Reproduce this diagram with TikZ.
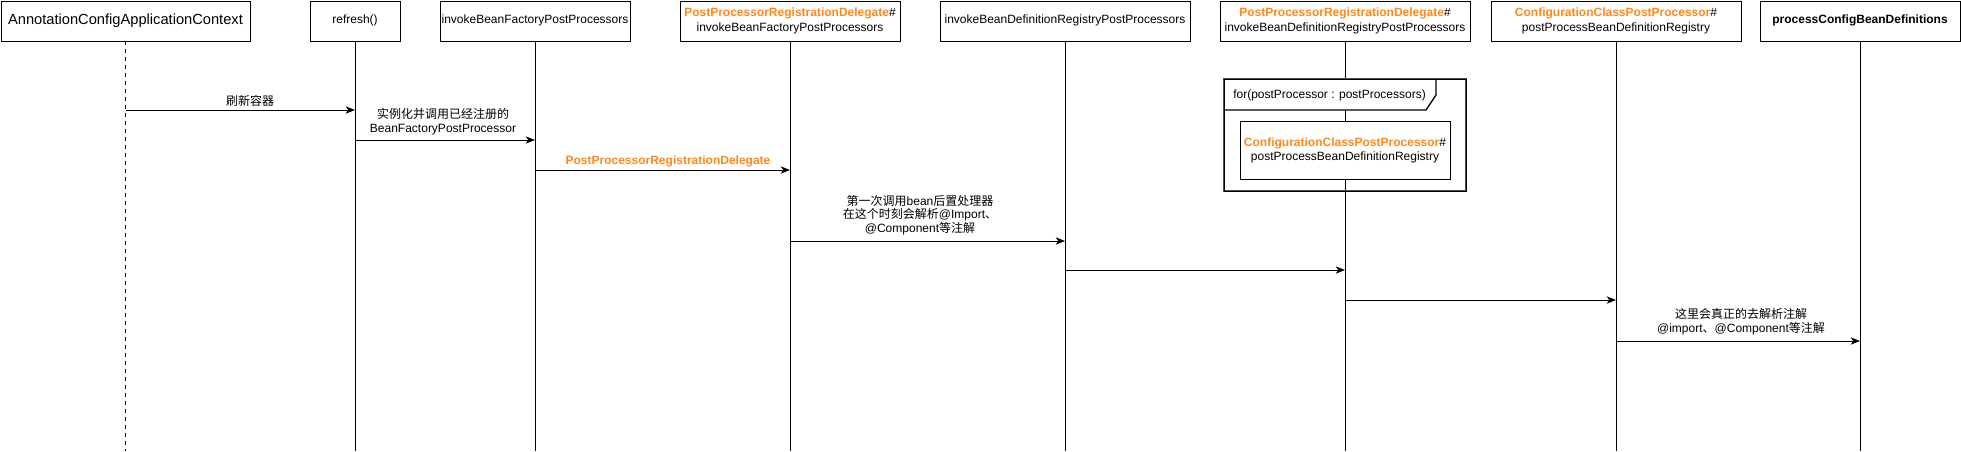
\documentclass[tikz,border=0pt]{standalone}
\usepackage{fontspec}
\setmainfont{Liberation Sans}
\newfontfamily\cjk{Noto Sans CJK SC}
\usepackage{tikz}
\usetikzlibrary{arrows.meta}
\definecolor{delegate}{RGB}{255,137,26}
\newcommand{\hl}[1]{{\color{delegate}\bfseries #1}}
\newcommand{\zh}[1]{{\cjk #1}}

\begin{document}
\begin{tikzpicture}
  [x=0.75pt,y=-0.75pt,
   actor/.style={draw,fill=white,anchor=north,minimum height=30pt,inner sep=0pt,
                 align=center,font=\fontsize{9}{10.8}\selectfont},
   life/.style={line width=0.75pt},
   msg/.style={line width=0.75pt,-{Stealth[length=7pt,width=5.5pt,inset=2pt]}},
   note/.style={align=center,inner sep=0pt,font=\fontsize{9}{10.8}\selectfont}]
  \useasboundingbox (0,0) rectangle (1961,451);

  % participants
  \node[actor,minimum width=187pt,font=\fontsize{11}{13}\selectfont] (a1) at (125.5,0.5) {AnnotationConfigApplicationContext};
  \node[actor,minimum width=67.5pt] (a2) at (355,0.5) {refresh()};
  \node[actor,minimum width=142.5pt] (a3) at (535,0.5) {invokeBeanFactoryPostProcessors};
  \node[actor,minimum width=165pt] (a4) at (790,0.5) {\hl{PostProcessorRegistrationDelegate}\#\\invokeBeanFactoryPostProcessors};
  \node[actor,minimum width=187.5pt] (a5) at (1065,0.5) {invokeBeanDefinitionRegistryPostProcessors};
  \node[actor,minimum width=187.5pt] (a6) at (1345,0.5) {\hl{PostProcessorRegistrationDelegate}\#\\invokeBeanDefinitionRegistryPostProcessors};
  \node[actor,minimum width=187.5pt] (a7) at (1616,0.5) {\hl{ConfigurationClassPostProcessor}\#\\postProcessBeanDefinitionRegistry};
  \node[actor,minimum width=150pt,font=\fontsize{9}{10.8}\selectfont\bfseries] (a8) at (1860,0.5) {processConfigBeanDefinitions};

  % lifelines
  \draw[life,dash pattern=on 3pt off 3pt] (a1.south) -- (a1.south |- 0,451);
  \foreach \n in {a2,a3,a4,a5,a6,a7,a8}
    \draw[life] (\n.south) -- (\n.south |- 0,451);

  % loop frame
  \draw[fill=white,line width=1pt] (1224,79) -- (1436,79) -- (1436,95) -- (1426,110) -- (1224,110) -- cycle;
  \node[note,anchor=west] (loop) at (1233,95) {for(postProcessor : postProcessors)};
  \node[draw,fill=white,line width=0.75pt,minimum width=157.5pt,minimum height=44pt,inner sep=0pt,
        align=center,font=\fontsize{9}{10.8}\selectfont] (inner) at (1345,150.5)
        {\hl{ConfigurationClassPostProcessor}\#\\postProcessBeanDefinitionRegistry};
  \draw[draw=black!70,line width=2pt] (1224,79) rectangle (1466,191);
  \draw[draw=black,line width=0.4pt] (1224,79) rectangle (1466,191);

  % messages
  \foreach \from/\to/\y in {a1/a2/110,a2/a3/140,a3/a4/170,a4/a5/241,a5/a6/270,a6/a7/300,a7/a8/341}
    \draw[msg] (\from |- 0,\y) -- (\to |- 0,\y);

  \node[note] (l1) at (250,101) {\zh{刷新容器}};
  \node[note] (l2) at (443,121.5) {\zh{实例化并调用已经注册的}\\BeanFactoryPostProcessor};
  \node[note] (l3) at (668,161.5) {\hl{PostProcessorRegistrationDelegate}};
  \node[note,font=\fontsize{9}{10}\selectfont] (l4) at (920,215)
    {\zh{第一次调用}bean\zh{后置处理器}\\\zh{在这个时刻会解析}@Import\zh{、}\\@Component\zh{等注解}};
  \node[note] (l7) at (1741,321.5) {\zh{这里会真正的去解析注解}\\@import\zh{、}@Component\zh{等注解}};
\end{tikzpicture}
\end{document}
